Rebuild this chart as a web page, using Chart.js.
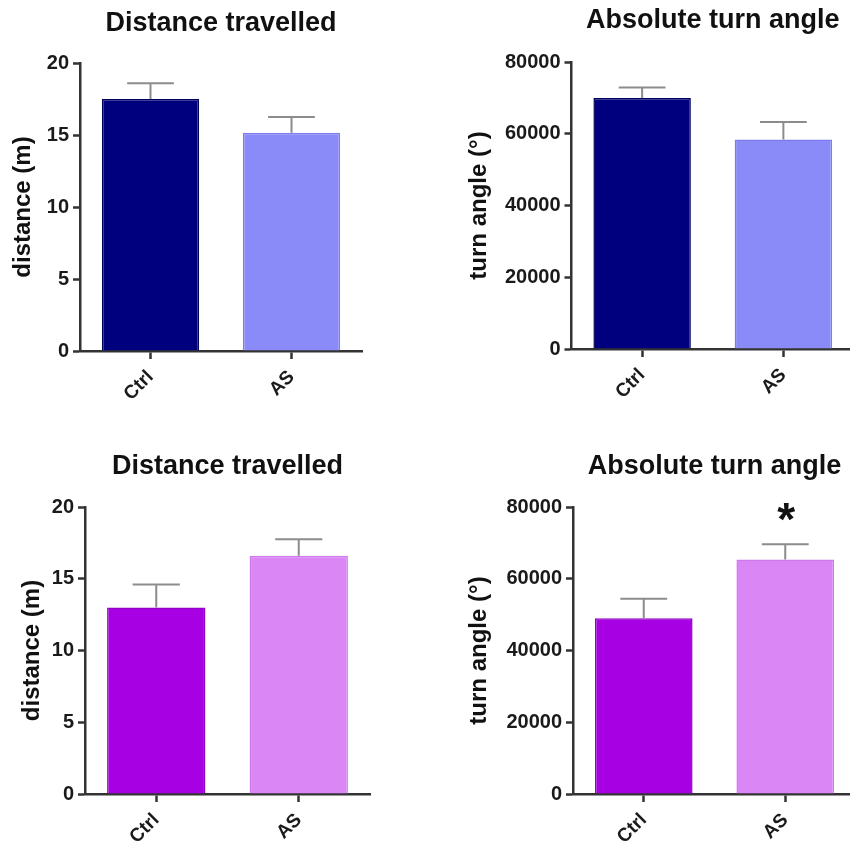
<!DOCTYPE html>
<html>
<head>
<meta charset="utf-8">
<title>Distance travelled / Absolute turn angle</title>
<script src="https://cdn.jsdelivr.net/npm/chart.js@4.4.1/dist/chart.umd.min.js"></script>
<style>
  html, body { margin: 0; padding: 0; background: #fff; overflow: hidden; }
  body { width: 850px; height: 843px; position: relative; }
  canvas { position: absolute; }
</style>
</head>
<body>
<canvas id="c1" width="425" height="421" style="left:0;top:0"></canvas>
<canvas id="c2" width="440" height="421" style="left:425px;top:0"></canvas>
<canvas id="c3" width="425" height="422" style="left:0;top:421px"></canvas>
<canvas id="c4" width="440" height="422" style="left:425px;top:421px"></canvas>
<script>
var groups = ['Ctrl', 'AS'];
var distTicks = [0, 5, 10, 15, 20];
var turnTicks = [0, 20000, 40000, 60000, 80000];

// top row (blue)
var distTop = [17.5, 15.15];
var distTopSem = [1.1, 1.1];
var turnTop = [70000, 58400];
var turnTopSem = [2900, 4850];

// bottom row (purple)
var distBottom = [13.0, 16.6];
var distBottomSem = [1.6, 1.15];
var turnBottom = [49000, 65400];
var turnBottomSem = [5400, 4200];
var turnBottomMarks = ['', '*'];

var FONT = '"Liberation Sans", Arial, sans-serif';
var blueFill = ['#00007f', '#8a8af8'];
var blueLine = ['#00005c', '#7c7cee'];
var purpleFill = ['#a700e3', '#da86f4'];
var purpleLine = ['#9000c4', '#cf78ec'];

// error bars (mean + SEM, upper only) and significance marks
var errorBars = {
  id: 'errorBars',
  afterDatasetsDraw: function(chart, args, opts) {
    var ctx = chart.ctx;
    var y = chart.scales.y;
    var ds = chart.data.datasets[0];
    var meta = chart.getDatasetMeta(0);
    ctx.save();
    meta.data.forEach(function(bar, i) {
      var top = y.getPixelForValue(ds.data[i] + opts.sem[i]);
      var half = bar.width * 0.24;
      ctx.strokeStyle = '#8c8c8c';
      ctx.lineWidth = 2;
      ctx.beginPath();
      ctx.moveTo(bar.x, bar.y);
      ctx.lineTo(bar.x, top);
      ctx.moveTo(bar.x - half, top);
      ctx.lineTo(bar.x + half, top);
      ctx.stroke();
      if (opts.marks && opts.marks[i]) {
        ctx.fillStyle = '#111';
        ctx.font = 'bold 46px ' + FONT;
        ctx.textAlign = 'center';
        ctx.textBaseline = 'alphabetic';
        ctx.fillText(opts.marks[i], bar.x + 1, top - 9);
      }
    });
    ctx.restore();
  }
};

// panel title centred over the plot area
var panelTitle = {
  id: 'panelTitle',
  afterDraw: function(chart, args, opts) {
    var a = chart.chartArea;
    var ctx = chart.ctx;
    ctx.save();
    ctx.font = 'bold 27px ' + FONT;
    ctx.fillStyle = '#111';
    ctx.textAlign = 'center';
    ctx.textBaseline = 'alphabetic';
    ctx.fillText(opts.text, (a.left + a.right) / 2, opts.baseline);
    ctx.restore();
  }
};

function makeChart(id, p) {
  return new Chart(document.getElementById(id), {
    type: 'bar',
    data: {
      labels: groups,
      datasets: [{
        data: p.values,
        backgroundColor: p.fill,
        borderColor: p.line,
        borderWidth: 1.5,
        barPercentage: 0.69,
        categoryPercentage: 1
      }]
    },
    options: {
      responsive: false,
      animation: false,
      layout: { padding: { top: p.top, right: p.right, left: 0, bottom: 0 } },
      plugins: {
        legend: { display: false },
        tooltip: { enabled: false },
        title: { display: false },
        errorBars: { sem: p.sem, marks: p.marks },
        panelTitle: { text: p.title, baseline: p.titleY }
      },
      scales: {
        x: {
          grid: { drawOnChartArea: false, offset: false, tickLength: 8, tickWidth: 2.5, tickColor: '#333' },
          border: { color: '#333', width: 2.5 },
          ticks: { font: { family: FONT, size: 19, weight: 'bold' }, color: '#1a1a1a', maxRotation: 45, minRotation: 45, padding: 7 },
          afterFit: function(s) { s.height = p.xHeight; }
        },
        y: {
          min: 0,
          max: p.ticks[p.ticks.length - 1],
          afterBuildTicks: function(s) {
            s.ticks = p.ticks.map(function(v) { return { value: v }; });
          },
          ticks: {
            font: { family: FONT, size: 20, weight: 'bold' },
            color: '#1a1a1a',
            padding: 4,
            callback: function(v) { return String(v); }
          },
          grid: { drawOnChartArea: false, tickLength: 7, tickWidth: 2.5, tickColor: '#333' },
          border: { color: '#333', width: 2.5 },
          title: {
            display: true,
            text: p.yTitle,
            color: '#111',
            font: { family: FONT, size: 24, weight: 'bold' },
            padding: { top: p.yTitlePad, bottom: 0 }
          },
          afterFit: function(s) { s.width = p.left; }
        }
      }
    },
    plugins: [errorBars, panelTitle]
  });
}

makeChart('c1', {
  values: distTop, sem: distTopSem, ticks: distTicks, fill: blueFill, line: blueLine,
  title: 'Distance travelled', yTitle: 'distance (m)',
  left: 80, right: 63, top: 63, xHeight: 70, titleY: 31, yTitlePad: 9
});
makeChart('c2', {
  values: turnTop, sem: turnTopSem, ticks: turnTicks, fill: blueFill, line: blueLine,
  title: 'Absolute turn angle', yTitle: 'turn angle (°)',
  left: 146.5, right: 11, top: 62, xHeight: 72, titleY: 28, yTitlePad: 40
});
makeChart('c3', {
  values: distBottom, sem: distBottomSem, ticks: distTicks, fill: purpleFill, line: purpleLine,
  title: 'Distance travelled', yTitle: 'distance (m)',
  left: 85, right: 55, top: 86, xHeight: 49, titleY: 53, yTitlePad: 18
});
makeChart('c4', {
  values: turnBottom, sem: turnBottomSem, marks: turnBottomMarks, ticks: turnTicks, fill: purpleFill, line: purpleLine,
  title: 'Absolute turn angle', yTitle: 'turn angle (°)',
  left: 148, right: 9, top: 86, xHeight: 49, titleY: 53, yTitlePad: 40
});
</script>
</body>
</html>
